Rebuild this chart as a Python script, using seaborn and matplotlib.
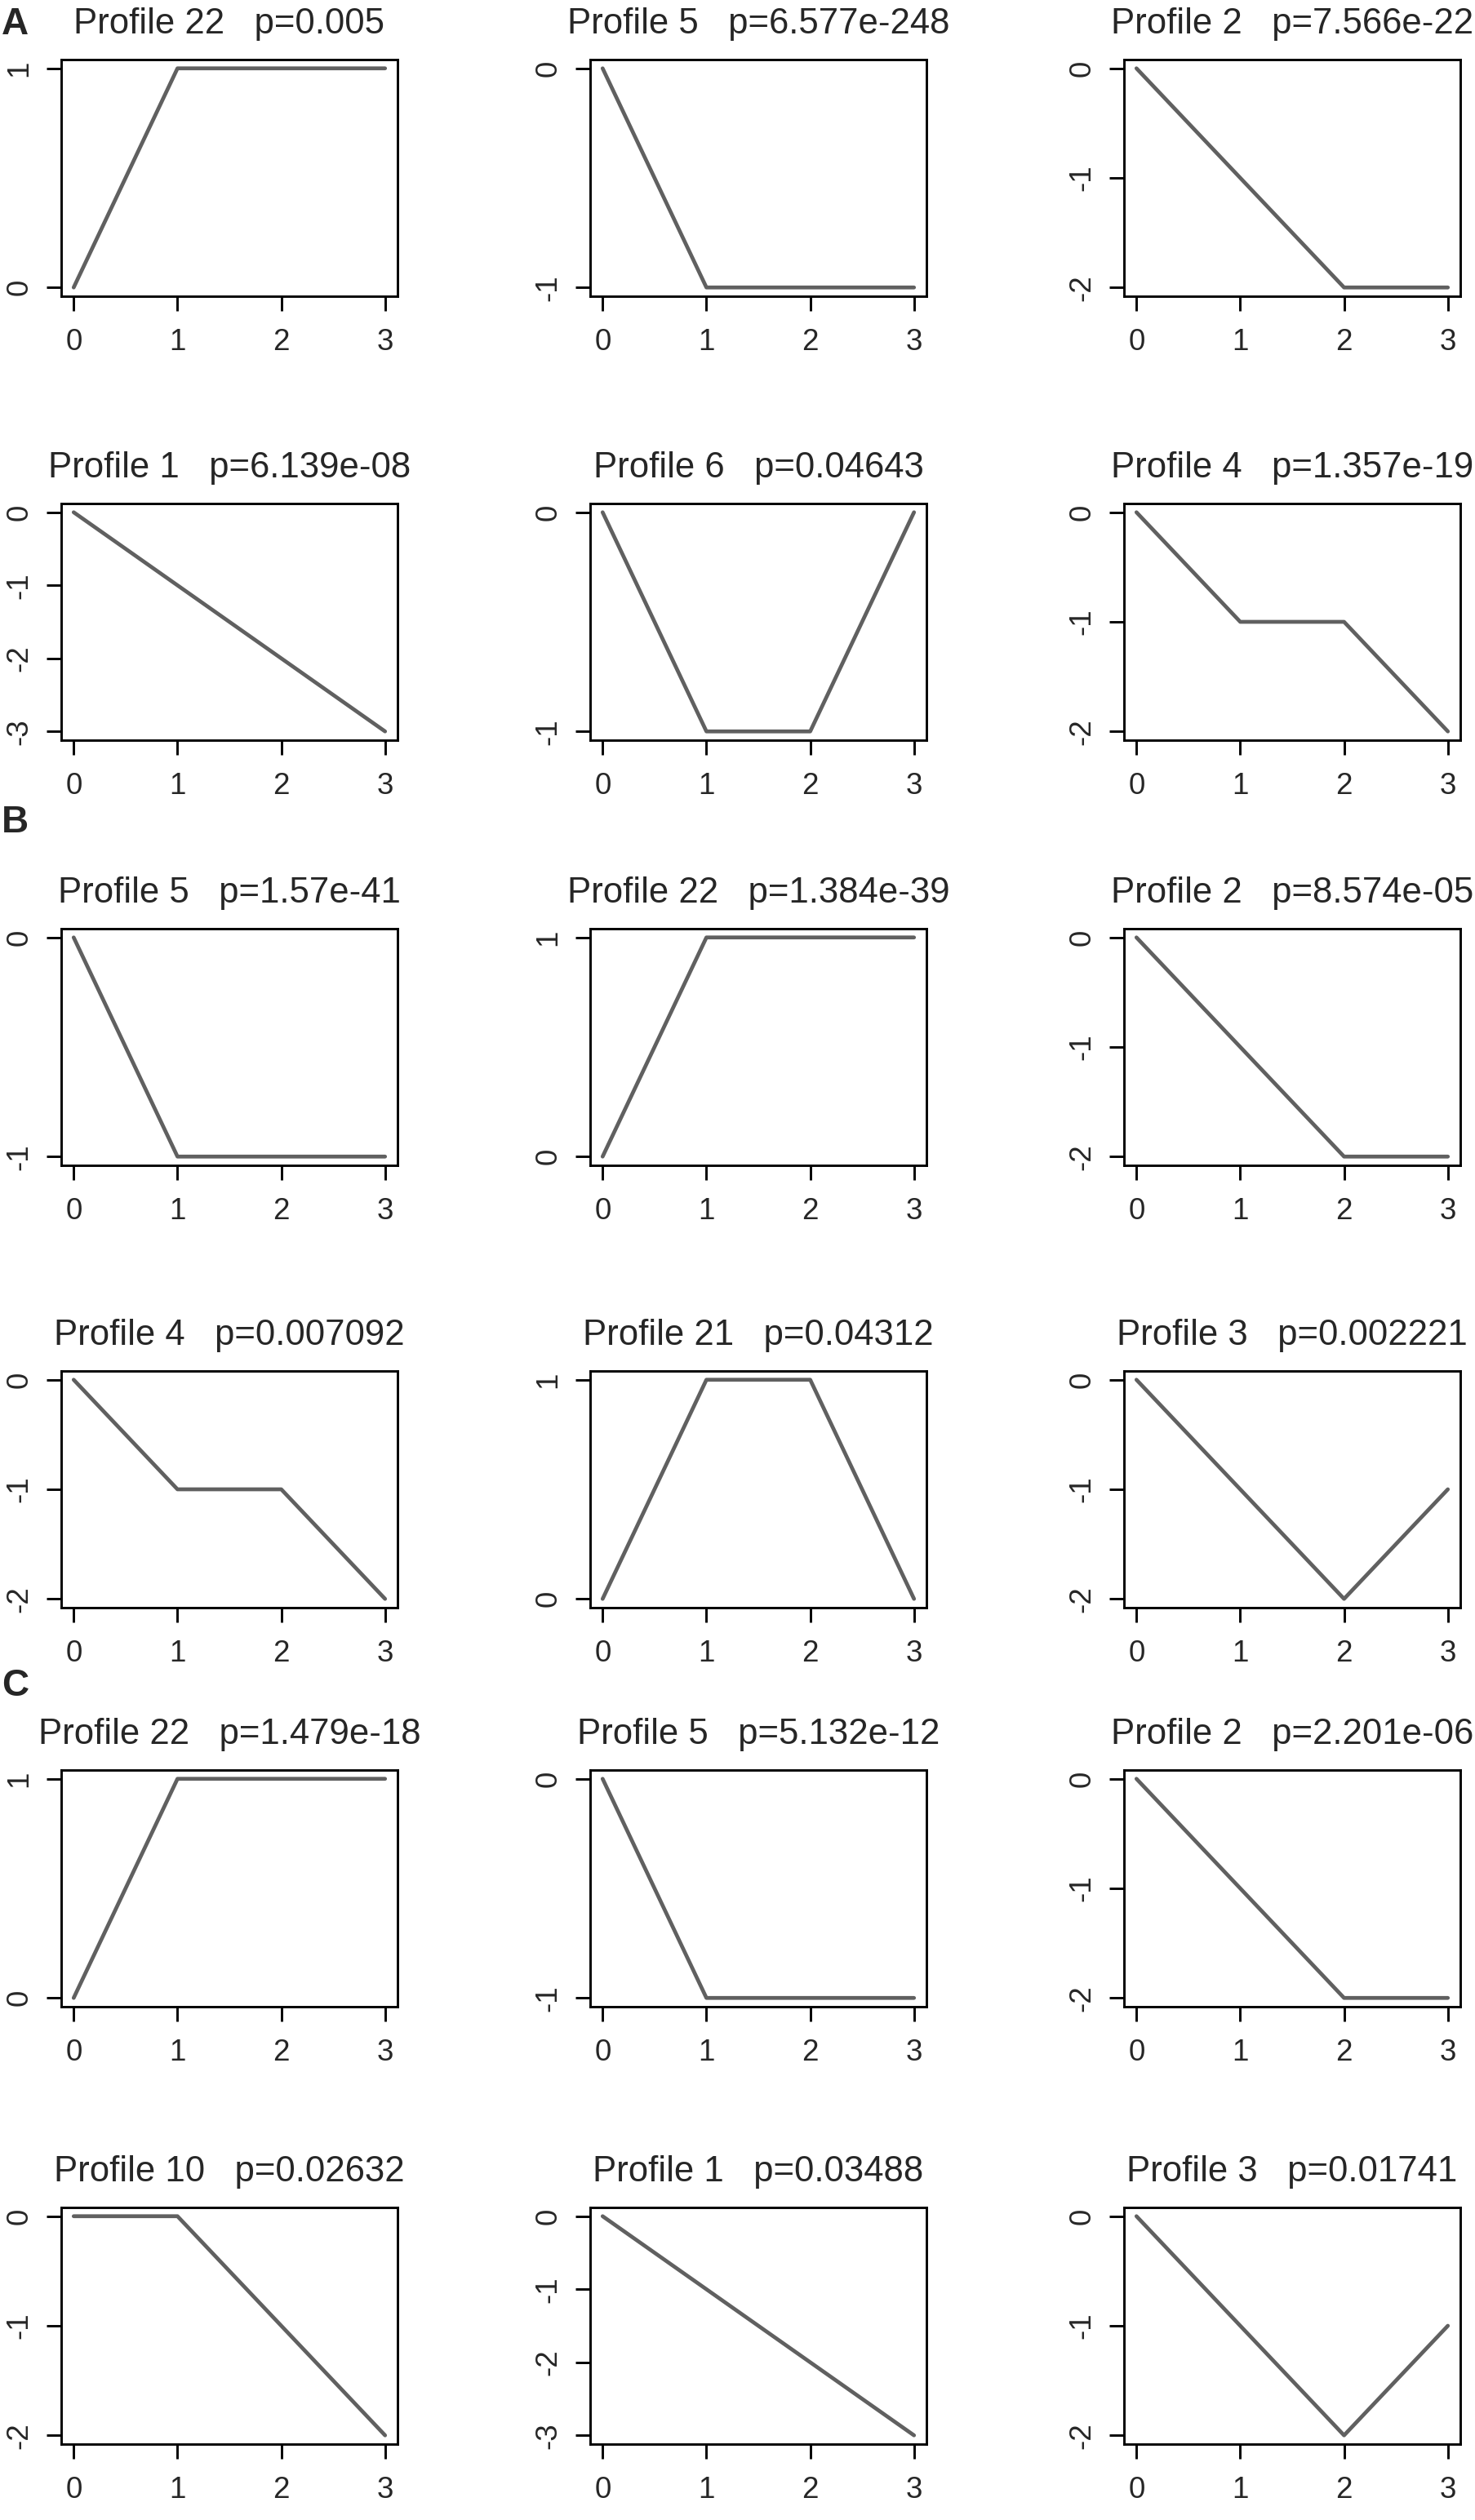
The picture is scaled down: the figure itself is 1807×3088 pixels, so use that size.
import matplotlib
matplotlib.use("Agg")
import matplotlib.pyplot as plt
import seaborn as sns
import pandas as pd

# time points shared by every profile
time_points = [0, 1, 2, 3]

# panel A
a_profiles = ["Profile 22", "Profile 5", "Profile 2", "Profile 1", "Profile 6", "Profile 4"]
a_pvalues = ["0.005", "6.577e-248", "7.566e-22", "6.139e-08", "0.04643", "1.357e-19"]
a_values = [[0, 1, 1, 1], [0, -1, -1, -1], [0, -1, -2, -2],
            [0, -1, -2, -3], [0, -1, -1, 0], [0, -1, -1, -2]]

# panel B
b_profiles = ["Profile 5", "Profile 22", "Profile 2", "Profile 4", "Profile 21", "Profile 3"]
b_pvalues = ["1.57e-41", "1.384e-39", "8.574e-05", "0.007092", "0.04312", "0.002221"]
b_values = [[0, -1, -1, -1], [0, 1, 1, 1], [0, -1, -2, -2],
            [0, -1, -1, -2], [0, 1, 1, 0], [0, -1, -2, -1]]

# panel C
c_profiles = ["Profile 22", "Profile 5", "Profile 2", "Profile 10", "Profile 1", "Profile 3"]
c_pvalues = ["1.479e-18", "5.132e-12", "2.201e-06", "0.02632", "0.03488", "0.01741"]
c_values = [[0, 1, 1, 1], [0, -1, -1, -1], [0, -1, -2, -2],
            [0, 0, -1, -2], [0, -1, -2, -3], [0, -1, -2, -1]]

panel_letters = ["A", "B", "C"]

sns.set_style("white")
plt.rcParams['font.family'] = ['Liberation Sans', 'DejaVu Sans']

W, H = 1807, 3088
fig = plt.figure(figsize=(W / 100, H / 100), dpi=100)

# layout in pixels
col_left = [75, 723, 1377]
row_top = [73, 617, 1138, 1680, 2169, 2705]
ax_w, ax_h = 412, 290
letter_base = [42, 1020, 2078]

line_color = "#606060"


def draw_profile(ax, values, title):
    df = pd.DataFrame({"time": time_points, "value": values})
    sns.lineplot(data=df, x="time", y="value", ax=ax, color=line_color,
                 linewidth=3.4, solid_capstyle="round")
    lo, hi = min(values), max(values)
    span = hi - lo
    ax.set_xlim(-0.12, 3.12)
    ax.set_ylim(lo - 0.04 * span, hi + 0.04 * span)
    ax.set_xticks(time_points)
    ax.set_xticklabels([str(t) for t in time_points])
    yt = list(range(lo, hi + 1))
    ax.set_yticks(yt)
    ax.set_yticklabels([str(v) for v in yt], rotation=90, va="center")
    ax.set_xlabel("")
    ax.set_ylabel("")
    for s in ax.spines.values():
        s.set_visible(True)
        s.set_color("black")
        s.set_linewidth(2.1)
    ax.tick_params(axis="both", direction="out", length=13, width=2.1,
                   color="black", labelsize=26.5, bottom=True, left=True)
    ax.tick_params(axis="x", pad=15)
    ax.tick_params(axis="y", pad=11)
    ax.set_title(title, fontsize=31.5, pad=23)


groups = [(a_profiles, a_pvalues, a_values),
          (b_profiles, b_pvalues, b_values),
          (c_profiles, c_pvalues, c_values)]

for g, (profiles, pvals, vals) in enumerate(groups):
    for i in range(6):
        r = g * 2 + i // 3
        c = i % 3
        left = col_left[c] / W
        bottom = 1 - (row_top[r] + ax_h) / H
        ax = fig.add_axes([left, bottom, ax_w / W, ax_h / H])
        draw_profile(ax, vals[i], f"{profiles[i]}   p={pvals[i]}")
    fig.text(2 / W, 1 - letter_base[g] / H, panel_letters[g], fontsize=33,
             fontweight="bold", va="baseline", ha="left")

fig.savefig("out.png", dpi=100, facecolor="white")
